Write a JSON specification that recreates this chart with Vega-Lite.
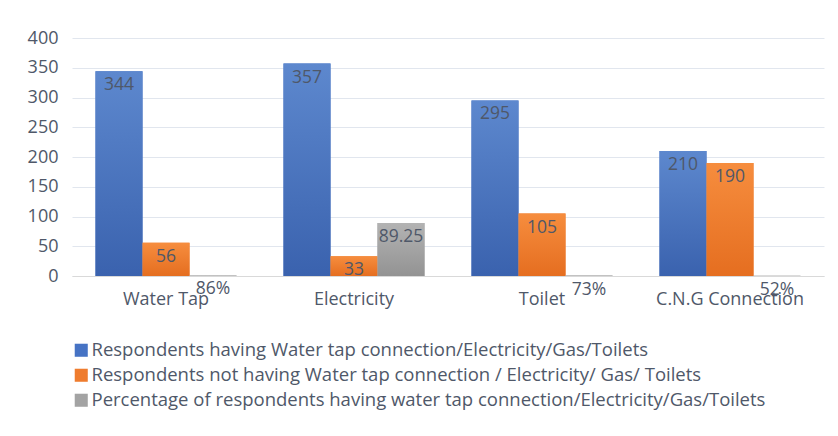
{
  "$schema": "https://vega.github.io/schema/vega-lite/v6.json",
  "width": 752,
  "height": 238,
  "autosize": {"type": "none"},
  "padding": {"left": 72, "top": 38, "right": 14, "bottom": 160},
  "background": "white",
  "config": {
    "view": {"stroke": null},
    "font": "Open Sans",
    "axis": {"labelFont": "Open Sans", "labelColor": "#4f5869", "labelFontSize": 18},
    "legend": {"labelFont": "Open Sans", "labelColor": "#4f5869", "labelFontSize": 18.5}
  },
  "data": {
    "values": [
      {"category": "Water Tap", "series": "Respondents having Water tap connection/Electricity/Gas/Toilets", "value": 344, "label": "344"},
      {"category": "Water Tap", "series": "Respondents not having Water tap connection / Electricity/ Gas/ Toilets", "value": 56, "label": "56"},
      {"category": "Water Tap", "series": "Percentage of respondents having water tap connection/Electricity/Gas/Toilets", "value": 0.86, "label": "86%"},
      {"category": "Electricity", "series": "Respondents having Water tap connection/Electricity/Gas/Toilets", "value": 357, "label": "357"},
      {"category": "Electricity", "series": "Respondents not having Water tap connection / Electricity/ Gas/ Toilets", "value": 33, "label": "33"},
      {"category": "Electricity", "series": "Percentage of respondents having water tap connection/Electricity/Gas/Toilets", "value": 89.25, "label": "89.25"},
      {"category": "Toilet", "series": "Respondents having Water tap connection/Electricity/Gas/Toilets", "value": 295, "label": "295"},
      {"category": "Toilet", "series": "Respondents not having Water tap connection / Electricity/ Gas/ Toilets", "value": 105, "label": "105"},
      {"category": "Toilet", "series": "Percentage of respondents having water tap connection/Electricity/Gas/Toilets", "value": 0.73, "label": "73%"},
      {"category": "C.N.G Connection", "series": "Respondents having Water tap connection/Electricity/Gas/Toilets", "value": 210, "label": "210"},
      {"category": "C.N.G Connection", "series": "Respondents not having Water tap connection / Electricity/ Gas/ Toilets", "value": 190, "label": "190"},
      {"category": "C.N.G Connection", "series": "Percentage of respondents having water tap connection/Electricity/Gas/Toilets", "value": 0.52, "label": "52%"}
    ]
  },
  "encoding": {
    "x": {
      "field": "category", "type": "nominal", "sort": null,
      "scale": {"paddingInner": 0.25, "paddingOuter": 0.125},
      "axis": {"title": null, "labelAngle": 0, "ticks": false, "domainColor": "#d9d9d9", "labelPadding": 14}
    },
    "xOffset": {
      "field": "series", "type": "nominal", "sort": null,
      "scale": {"paddingInner": 0, "paddingOuter": 0}
    },
    "y": {
      "field": "value", "type": "quantitative",
      "scale": {"domain": [0, 400]},
      "axis": {"title": null, "values": [0, 50, 100, 150, 200, 250, 300, 350, 400], "domain": false, "ticks": false, "gridColor": "#e1e6ee", "labelPadding": 14}
    }
  },
  "layer": [
    {
      "mark": {"type": "bar"},
      "encoding": {
        "color": {
          "field": "series", "type": "nominal", "sort": null,
          "scale": {"range": ["#4673c4", "#ef7c2e", "#a3a3a3"]},
          "legend": {
            "title": null, "orient": "none", "legendX": 0, "legendY": 303,
            "symbolType": "square", "symbolSize": 170, "symbolStrokeWidth": 0,
            "labelLimit": 800, "rowPadding": 6, "labelOffset": 1
          }
        }
      }
    },
    {
      "mark": {"type": "bar"},
      "encoding": {
        "fill": {
          "condition": [
            {"test": "datum.series === 'Respondents having Water tap connection/Electricity/Gas/Toilets'",
             "value": {"gradient": "linear", "x1": 0, "y1": 0, "x2": 0, "y2": 1, "stops": [{"offset": 0, "color": "#5d88ce"}, {"offset": 1, "color": "#3a62ae"}]}},
            {"test": "datum.series === 'Respondents not having Water tap connection / Electricity/ Gas/ Toilets'",
             "value": {"gradient": "linear", "x1": 0, "y1": 0, "x2": 0, "y2": 1, "stops": [{"offset": 0, "color": "#f68d3e"}, {"offset": 1, "color": "#e56e20"}]}}
          ],
          "value": {"gradient": "linear", "x1": 0, "y1": 0, "x2": 0, "y2": 1, "stops": [{"offset": 0, "color": "#b3b3b3"}, {"offset": 1, "color": "#939393"}]}
        }
      }
    },
    {
      "mark": {"type": "text", "baseline": "top", "dy": 5, "fontSize": 17.5, "color": "#4f5869"},
      "encoding": {"text": {"field": "label"}}
    }
  ]
}
